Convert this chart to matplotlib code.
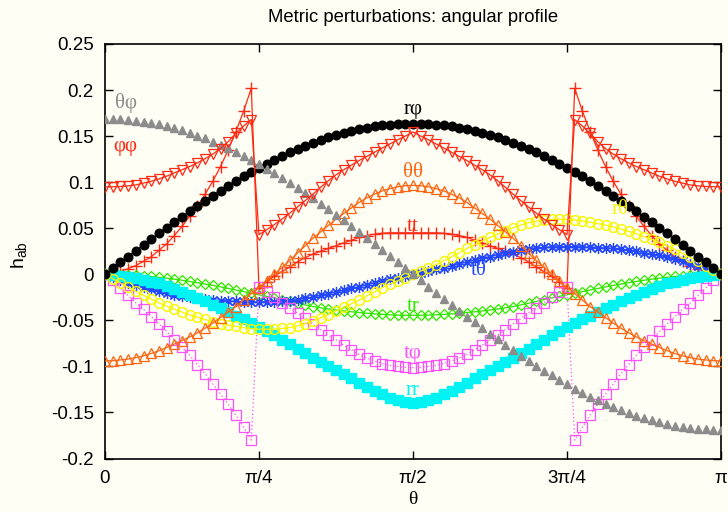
import numpy as np
import matplotlib
matplotlib.use("Agg")
import matplotlib.pyplot as plt

# ---------------- data ----------------
n_points = 81
theta = np.arange(n_points) * np.pi / 80.0

r_phi = [0, 0.0064, 0.0128, 0.0192, 0.0256, 0.0319, 0.0382, 0.0444, 0.0506, 0.0566,
         0.0626, 0.0685, 0.0743, 0.0799, 0.0855, 0.0909, 0.0962, 0.1013, 0.1062, 0.1111,
         0.1157, 0.1201, 0.1244, 0.1285, 0.1324, 0.1360, 0.1395, 0.1427, 0.1458, 0.1486,
         0.1511, 0.1535, 0.1556, 0.1575, 0.1591, 0.1605, 0.1616, 0.1625, 0.1631, 0.1635,
         0.1636,
         0.1635, 0.1631, 0.1625, 0.1616, 0.1605, 0.1591, 0.1575, 0.1556, 0.1535, 0.1511,
         0.1486, 0.1458, 0.1427, 0.1395, 0.1360, 0.1324, 0.1285, 0.1244, 0.1201, 0.1157,
         0.1111, 0.1062, 0.1013, 0.0962, 0.0909, 0.0855, 0.0799, 0.0743, 0.0685, 0.0626,
         0.0566, 0.0506, 0.0444, 0.0382, 0.0319, 0.0256, 0.0192, 0.0128, 0.0064, 0]

theta_phi = [0.1690, 0.1689, 0.1685, 0.1678, 0.1669, 0.1658, 0.1643, 0.1627, 0.1607, 0.1586,
             0.1561, 0.1535, 0.1506, 0.1475, 0.1441, 0.1405, 0.1367, 0.1327, 0.1285, 0.1241,
             0.1195, 0.1147, 0.1098, 0.1046, 0.0993, 0.0939, 0.0883, 0.0826, 0.0767, 0.0708,
             0.0647, 0.0585, 0.0522, 0.0459, 0.0395, 0.0330, 0.0264, 0.0199, 0.0133, 0.0066,
             0,
             -0.0066, -0.0133, -0.0199, -0.0264, -0.0330, -0.0395, -0.0459, -0.0522, -0.0585, -0.0647,
             -0.0708, -0.0767, -0.0826, -0.0883, -0.0939, -0.0993, -0.1046, -0.1098, -0.1147, -0.1195,
             -0.1241, -0.1285, -0.1327, -0.1367, -0.1405, -0.1441, -0.1475, -0.1506, -0.1535, -0.1561,
             -0.1586, -0.1607, -0.1627, -0.1643, -0.1658, -0.1669, -0.1678, -0.1685, -0.1689, -0.1690]

phi_phi = [0.0950, 0.0950, 0.0953, 0.0960, 0.0970, 0.0990, 0.1010, 0.1035, 0.1065, 0.1100,
           0.1135, 0.1170, 0.1210, 0.1255, 0.1305, 0.1365, 0.1440, 0.1530, 0.1610, 0.1680,
           0.0430, 0.0485, 0.0540, 0.0600, 0.0665, 0.0730, 0.0800, 0.0870, 0.0945, 0.1015,
           0.1080, 0.1135, 0.1185, 0.1235, 0.1280, 0.1325, 0.1370, 0.1415, 0.1460, 0.1500,
           0.1545,
           0.1500, 0.1460, 0.1415, 0.1370, 0.1325, 0.1280, 0.1235, 0.1185, 0.1135, 0.1080,
           0.1015, 0.0945, 0.0870, 0.0800, 0.0730, 0.0665, 0.0600, 0.0540, 0.0485, 0.0430,
           0.1680, 0.1610, 0.1530, 0.1440, 0.1365, 0.1305, 0.1255, 0.1210, 0.1170, 0.1135,
           0.1100, 0.1065, 0.1035, 0.1010, 0.0990, 0.0970, 0.0960, 0.0953, 0.0950, 0.0950]

t_t = [0, 0.0008, 0.0030, 0.0060, 0.0095, 0.0140, 0.0190, 0.0260, 0.0330, 0.0420,
       0.0520, 0.0630, 0.0740, 0.0870, 0.1010, 0.1170, 0.1350, 0.1550, 0.1770, 0.2020,
       -0.0150, -0.0080, -0.0020, 0.0030, 0.0080, 0.0135, 0.0180, 0.0220, 0.0250, 0.0280,
       0.0310, 0.0340, 0.0370, 0.0400, 0.0420, 0.0435, 0.0445, 0.0450, 0.0450, 0.0450,
       0.0450,
       0.0450, 0.0450, 0.0450, 0.0445, 0.0435, 0.0420, 0.0400, 0.0370, 0.0340, 0.0310,
       0.0280, 0.0250, 0.0220, 0.0180, 0.0135, 0.0080, 0.0030, -0.0020, -0.0080, -0.0150,
       0.2020, 0.1770, 0.1550, 0.1350, 0.1170, 0.1010, 0.0870, 0.0740, 0.0630, 0.0520,
       0.0420, 0.0330, 0.0260, 0.0190, 0.0140, 0.0095, 0.0060, 0.0030, 0.0008, 0]

theta_theta = [-0.0940, -0.0938, -0.0930, -0.0920, -0.0905, -0.0885, -0.0860, -0.0830, -0.0795, -0.0758,
               -0.0720, -0.0680, -0.0635, -0.0585, -0.0530, -0.0470, -0.0410, -0.0350, -0.0280, -0.0210,
               -0.0145, -0.0070, 0.0000, 0.0075, 0.0150, 0.0230, 0.0310, 0.0390, 0.0460, 0.0530,
               0.0600, 0.0660, 0.0720, 0.0780, 0.0830, 0.0870, 0.0905, 0.0930, 0.0950, 0.0962,
               0.0965,
               0.0962, 0.0950, 0.0930, 0.0905, 0.0870, 0.0830, 0.0780, 0.0720, 0.0660, 0.0600,
               0.0530, 0.0460, 0.0390, 0.0310, 0.0230, 0.0150, 0.0075, 0.0000, -0.0070, -0.0145,
               -0.0210, -0.0280, -0.0350, -0.0410, -0.0470, -0.0530, -0.0585, -0.0635, -0.0680, -0.0720,
               -0.0758, -0.0795, -0.0830, -0.0860, -0.0885, -0.0905, -0.0920, -0.0930, -0.0938, -0.0940]

r_theta = [0, -0.0047, -0.0094, -0.0140, -0.0185, -0.0228, -0.0270, -0.0310, -0.0345, -0.0378,
           -0.0410, -0.0440, -0.0465, -0.0490, -0.0515, -0.0535, -0.0550, -0.0565, -0.0580, -0.0590,
           -0.0595, -0.0597, -0.0595, -0.0588, -0.0578, -0.0560, -0.0535, -0.0505, -0.0472, -0.0437,
           -0.0400, -0.0360, -0.0320, -0.0280, -0.0235, -0.0190, -0.0145, -0.0105, -0.0070, -0.0035,
           0,
           0.0035, 0.0070, 0.0105, 0.0145, 0.0190, 0.0235, 0.0280, 0.0320, 0.0360, 0.0400,
           0.0437, 0.0472, 0.0505, 0.0535, 0.0560, 0.0578, 0.0588, 0.0595, 0.0597, 0.0595,
           0.0590, 0.0580, 0.0565, 0.0550, 0.0535, 0.0515, 0.0490, 0.0465, 0.0440, 0.0410,
           0.0378, 0.0345, 0.0310, 0.0270, 0.0228, 0.0185, 0.0140, 0.0094, 0.0047, 0]

t_theta = [0, -0.0030, -0.0060, -0.0090, -0.0115, -0.0140, -0.0165, -0.0185, -0.0205, -0.0220,
           -0.0235, -0.0250, -0.0260, -0.0270, -0.0280, -0.0285, -0.0290, -0.0295, -0.0298, -0.0300,
           -0.0300, -0.0300, -0.0297, -0.0292, -0.0285, -0.0275, -0.0262, -0.0247, -0.0230, -0.0212,
           -0.0193, -0.0174, -0.0154, -0.0134, -0.0113, -0.0093, -0.0073, -0.0054, -0.0036, -0.0018,
           0,
           0.0018, 0.0036, 0.0054, 0.0073, 0.0093, 0.0113, 0.0134, 0.0154, 0.0174, 0.0193,
           0.0212, 0.0230, 0.0247, 0.0262, 0.0275, 0.0285, 0.0292, 0.0297, 0.0300, 0.0300,
           0.0300, 0.0298, 0.0295, 0.0290, 0.0285, 0.0280, 0.0270, 0.0260, 0.0250, 0.0235,
           0.0220, 0.0205, 0.0185, 0.0165, 0.0140, 0.0115, 0.0090, 0.0060, 0.0030, 0]

t_r = [0, -0.0001, -0.0003, -0.0006, -0.0011, -0.0017, -0.0024, -0.0033, -0.0042, -0.0053,
       -0.0065, -0.0078, -0.0092, -0.0106, -0.0121, -0.0137, -0.0154, -0.0171, -0.0188, -0.0205,
       -0.0223, -0.0240, -0.0257, -0.0275, -0.0295, -0.0315, -0.0333, -0.0350, -0.0364, -0.0376,
       -0.0388, -0.0398, -0.0407, -0.0415, -0.0423, -0.0430, -0.0435, -0.0440, -0.0443, -0.0445,
       -0.0445,
       -0.0445, -0.0443, -0.0440, -0.0435, -0.0430, -0.0423, -0.0415, -0.0407, -0.0398, -0.0388,
       -0.0376, -0.0364, -0.0350, -0.0333, -0.0315, -0.0295, -0.0275, -0.0257, -0.0240, -0.0223,
       -0.0205, -0.0188, -0.0171, -0.0154, -0.0137, -0.0121, -0.0106, -0.0092, -0.0078, -0.0065,
       -0.0053, -0.0042, -0.0033, -0.0024, -0.0017, -0.0011, -0.0006, -0.0003, -0.0001, 0]

t_phi = [0, -0.0060, -0.0150, -0.0230, -0.0310, -0.0380, -0.0460, -0.0540, -0.0620, -0.0710,
         -0.0790, -0.0880, -0.0980, -0.1080, -0.1190, -0.1300, -0.1410, -0.1530, -0.1660, -0.1800,
         -0.0140, -0.0190, -0.0250, -0.0310, -0.0370, -0.0420, -0.0480, -0.0540, -0.0600, -0.0660,
         -0.0710, -0.0770, -0.0820, -0.0870, -0.0910, -0.0940, -0.0970, -0.0990, -0.1000, -0.1010,
         -0.1013,
         -0.1010, -0.1000, -0.0990, -0.0970, -0.0940, -0.0910, -0.0870, -0.0820, -0.0770, -0.0710,
         -0.0660, -0.0600, -0.0540, -0.0480, -0.0420, -0.0370, -0.0310, -0.0250, -0.0190, -0.0140,
         -0.1800, -0.1660, -0.1530, -0.1410, -0.1300, -0.1190, -0.1080, -0.0980, -0.0880, -0.0790,
         -0.0710, -0.0620, -0.0540, -0.0460, -0.0380, -0.0310, -0.0230, -0.0150, -0.0060, 0]

r_r = [0, -0.0005, -0.0015, -0.0030, -0.0045, -0.0060, -0.0080, -0.0100, -0.0125, -0.0155,
       -0.0190, -0.0225, -0.0260, -0.0295, -0.0330, -0.0370, -0.0410, -0.0450, -0.0490, -0.0530,
       -0.0570, -0.0615, -0.0660, -0.0710, -0.0760, -0.0810, -0.0860, -0.0905, -0.0950, -0.0995,
       -0.1040, -0.1085, -0.1130, -0.1175, -0.1220, -0.1265, -0.1305, -0.1340, -0.1370, -0.1390,
       -0.1400,
       -0.1390, -0.1370, -0.1340, -0.1305, -0.1265, -0.1220, -0.1175, -0.1130, -0.1085, -0.1040,
       -0.0995, -0.0950, -0.0905, -0.0860, -0.0810, -0.0760, -0.0710, -0.0660, -0.0615, -0.0570,
       -0.0530, -0.0490, -0.0450, -0.0410, -0.0370, -0.0330, -0.0295, -0.0260, -0.0225, -0.0190,
       -0.0155, -0.0125, -0.0100, -0.0080, -0.0060, -0.0045, -0.0030, -0.0015, -0.0005, 0]

x_tick_values = [0, np.pi / 4, np.pi / 2, 3 * np.pi / 4, np.pi]
x_tick_labels = ["0", "π/4", "π/2", "3π/4", "π"]
y_tick_values = [-0.2, -0.15, -0.1, -0.05, 0, 0.05, 0.1, 0.15, 0.2, 0.25]
y_tick_labels = ["-0.2", "-0.15", "-0.1", "-0.05", "0", "0.05", "0.1", "0.15", "0.2", "0.25"]

# ---------------- styling ----------------
BG = "#fefef4"
C_BLACK = "#000000"
C_RED = "#ff2a14"
C_GRAY = "#8c8c8c"
C_ORANGE = "#ff6410"
C_YELLOW = "#f6f600"
C_BLUE = "#2448ff"
C_GREEN = "#2ee600"
C_MAGENTA = "#ff50ff"
C_CYAN = "#00f2f2"

plt.rcParams["font.family"] = ["Liberation Sans", "DejaVu Sans"]

fig = plt.figure(figsize=(7.28, 5.12), dpi=100, facecolor=BG)
ax = fig.add_axes([105 / 728, 1 - 458.5 / 512, 616 / 728, 414.5 / 512], facecolor=BG)

lw = 0.9
ax.plot(theta, t_t, color=C_RED, lw=lw, marker="+", ms=8, mew=1.0, zorder=3)
ax.plot(theta, t_r, color=C_GREEN, lw=lw, marker="D", ms=5, mfc="none", mec=C_GREEN, mew=0.9, zorder=3)
ax.plot(theta, t_theta, color=C_BLUE, lw=lw, marker=(8, 2, 0), ms=8, mew=0.9, zorder=3)
ax.plot(theta, t_phi, color=C_MAGENTA, lw=lw, ls=(0, (1, 2)), marker="s", ms=6.5, mfc="none", mec=C_MAGENTA, mew=0.9, zorder=3)
ax.plot(theta, r_r, color=C_CYAN, lw=lw, marker="s", ms=7, mfc=C_CYAN, mec=C_CYAN, zorder=3)
ax.plot(theta, r_theta, color=C_YELLOW, lw=lw, marker="o", ms=7, mfc="none", mec=C_YELLOW, mew=1.0, zorder=3)
ax.plot(theta, r_phi, color=C_BLACK, lw=lw, marker="o", ms=6.2, mfc=C_BLACK, mec=C_BLACK, zorder=3)
ax.plot(theta, theta_theta, color=C_ORANGE, lw=lw, marker="^", ms=7, mfc="none", mec=C_ORANGE, mew=0.9, zorder=3)
ax.plot(theta, theta_phi, ls="none", marker="^", ms=5.5, mfc=C_GRAY, mec=C_GRAY, zorder=3)
ax.plot(theta, phi_phi, color=C_RED, lw=lw, marker="v", ms=7, mfc="none", mec=C_RED, mew=0.9, zorder=3)

ax.set_xlim(0, np.pi)
ax.set_ylim(-0.2, 0.25)
ax.set_xticks(x_tick_values)
ax.set_xticklabels(x_tick_labels)
ax.set_yticks(y_tick_values)
ax.set_yticklabels(y_tick_labels)
ax.tick_params(direction="in", length=6, width=1, top=True, right=True,
               labelsize=13.5, pad=8, colors="black")
for s in ax.spines.values():
    s.set_linewidth(1.2)

# curve labels
lab_font = dict(family=["Liberation Serif", "DejaVu Serif"], fontsize=15, ha="center", va="center")
ax.text(0.105, 0.1857, "θφ", color=C_GRAY, **lab_font)
ax.text(0.105, 0.1390, "φφ", color=C_RED, **lab_font)
ax.text(np.pi / 2, 0.1788, "rφ", color=C_BLACK, **lab_font)
ax.text(np.pi / 2, 0.1100, "θθ", color=C_ORANGE, **lab_font)
ax.text(np.pi / 2, 0.0514, "tt", color=C_RED, **lab_font)
ax.text(2.626, 0.0706, "rθ", color=C_YELLOW, **lab_font)
ax.text(1.904, 0.0043, "tθ", color=C_BLUE, **lab_font)
ax.text(np.pi / 2, -0.0355, "tr", color=C_GREEN, **lab_font)
ax.text(np.pi / 2, -0.0860, "tφ", color=C_MAGENTA, **lab_font)
ax.text(np.pi / 2, -0.1260, "rr", color=C_CYAN, **lab_font)

fig.text(413 / 728, 1 - 17 / 512, "Metric perturbations: angular profile",
         ha="center", va="center", fontsize=13.3)
fig.text(413 / 728, 1 - 500 / 512, "θ", ha="center", va="center", fontsize=14,
         family=["Liberation Serif", "DejaVu Serif"])
fig.text(20 / 728, 1 - 255 / 512, r"h$_{\mathregular{ab}}$", ha="center", va="center",
         rotation=90, fontsize=14)

fig.savefig("out.png", dpi=100, facecolor=BG)
